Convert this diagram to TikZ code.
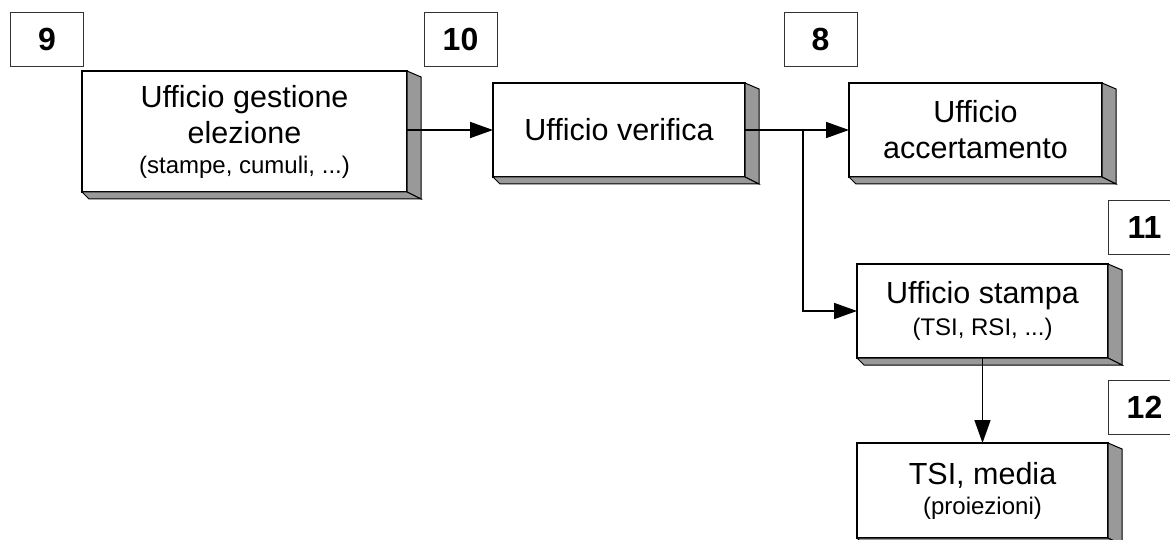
\documentclass[tikz,border=0pt]{standalone}
\usepackage{fontspec}
\setmainfont{Liberation Sans}
\usetikzlibrary{arrows.meta}

\definecolor{sidegray}{RGB}{153,153,153}
\newcommand{\subtxt}[1]{{\fontsize{24}{28}\selectfont #1}}

\tikzset{
	office/.style={draw, line width=1.3pt, fill=white, align=center, inner sep=0pt, outer sep=0pt, font=\fontsize{30.5}{36}\selectfont},
	stepno/.style={draw=black!80, line width=0.9pt, minimum width=73pt, minimum height=54pt, inner sep=0pt, font=\bfseries\fontsize{32}{36}\selectfont},
	link/.style={line width=1.6pt, -{Triangle[length=23pt,width=16pt]}}
}

\begin{document}
\begin{tikzpicture}[x=1pt, y=-1pt]
		\useasboundingbox (0,0) rectangle (1170,540);
		% step numbers
		\node[stepno] (n9) at (47,39) {9};
		\node[stepno] (n10) at (460.5,39) {10};
		\node[stepno] (n8) at (820.5,39) {8};
		\node[stepno] (n11) at (1144.5,227) {11};
		\node[stepno] (n12) at (1144.5,407.5) {12};
		% offices
		\node[office, minimum width=325pt, minimum height=121pt] (gest) at (244.5,131.5) {Ufficio gestione\\elezione\\[-6pt]\subtxt{(stampe, cumuli, ...)}};
		\node[office, minimum width=252pt, minimum height=94pt] (verif) at (619,130) {Ufficio verifica};
		\node[office, minimum width=253pt, minimum height=94pt] (accert) at (975.5,130) {Ufficio\\accertamento};
		\node[office, minimum width=251pt, minimum height=94pt] (stampa) at (982.5,311) {Ufficio stampa\\[-4pt]\subtxt{(TSI, RSI, ...)}};
		\node[office, minimum width=251pt, minimum height=95pt] (media) at (982.5,490.5) {TSI, media\\[-6pt]\subtxt{(proiezioni)}};
		\foreach \n in {gest, verif, accert, stampa, media} {
			\filldraw[fill=sidegray, line width=1pt] (\n.north east) -- ++(14,6) -- ([shift={(14,7)}]\n.south east) -- (\n.south east) -- cycle;
			\filldraw[fill=sidegray, line width=1pt] (\n.south west) -- ++(7,7) -- ([shift={(14,7)}]\n.south east) -- (\n.south east) -- cycle;
		}
		% flow
		\coordinate (split) at (803,130);
		\draw[link] (gest.east |- verif.west) -- (verif.west);
		\draw[link] (verif.east) -- (accert.west);
		\draw[link] (split) |- (stampa.west);
		\draw[link] (stampa.south) -- (media.north);
	\end{tikzpicture}
\end{document}
